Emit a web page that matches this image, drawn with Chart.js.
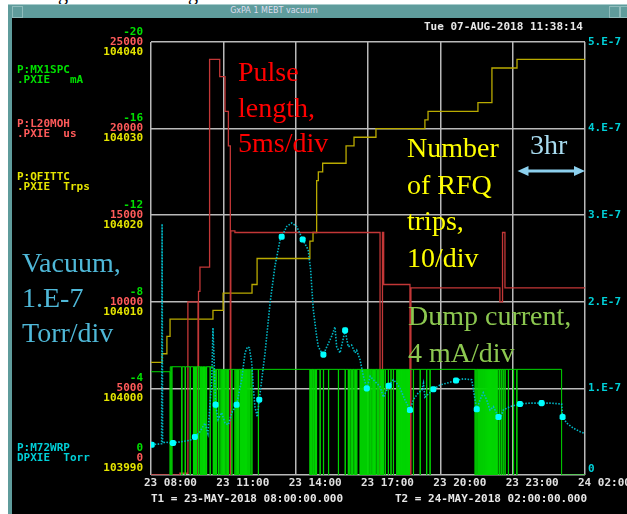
<!DOCTYPE html>
<html>
<head>
<meta charset="utf-8">
<script src="https://cdn.jsdelivr.net/npm/chart.js@4.4.1/dist/chart.umd.min.js"></script>
<style>
  body { margin:0; width:627px; height:514px; background:#fff; position:relative; overflow:hidden; }
  #frame { position:absolute; left:8px; top:4px; width:640px; height:530px; background:#5f9c9c; border-top:1px solid #a8cccc; }
  #panel { position:absolute; left:12px; top:18px; width:640px; height:500px; background:#000; }
  .btn { position:absolute; top:6px; width:9px; height:10px; border:1px solid #8fbcbc; }
  #title { position:absolute; left:0; width:548px; top:6px; text-align:center; font:8px 'DejaVu Sans', sans-serif; color:#dde; }
  canvas { position:absolute; left:0; top:0; }
  .t { position:absolute; white-space:pre; font:bold 11px 'DejaVu Sans Mono', monospace; line-height:10px; }
  .big { position:absolute; white-space:pre; font-family:'Liberation Serif','Times New Roman',serif; font-size:28px; }
  .cut { position:absolute; top:-17px; font:20px 'Liberation Serif', serif; line-height:20px; color:#000; }
</style>
</head>
<body>
<div class="cut" style="left:58px">g</div>
<div class="cut" style="left:188px">g</div>
<div id="frame"></div>
<div class="btn" style="left:12px"></div>
<div class="btn" style="left:609px"></div>
<div class="btn" style="left:620px"></div>
<div id="title">GxPA 1 MEBT vacuum</div>
<div id="panel"></div>
<canvas id="c" width="627" height="514"></canvas>

<div class="t" style="left:424px;top:22px;color:#e8e8e8">Tue 07-AUG-2018 11:38:14</div>

<div class="t" style="left:17px;top:65px;color:#00e000">P:MX1SPC
.PXIE   mA</div>
<div class="t" style="left:17px;top:119px;color:#ff5a5a">P:L20MOH
.PXIE  us</div>
<div class="t" style="left:17px;top:172px;color:#e6e600">P:QFITTC
.PXIE  Trps</div>
<div class="t" style="left:17px;top:443px;color:#00d0d8">P:M72WRP
DPXIE  Torr</div>

<div class="t" style="left:151px;top:494px;color:#e8e8e8">T1 = 23-MAY-2018 08:00:00.000</div>
<div class="t" style="left:395px;top:494px;color:#e8e8e8">T2 = 24-MAY-2018 02:00:00.000</div>

<div class="big" style="left:238px;top:54px;line-height:35.5px;color:#ff0000">Pulse
length,
5ms/div</div>
<div class="big" style="left:407px;top:130px;line-height:36.5px;color:#ffff00">Number
of RFQ
trips,
10/div</div>
<div class="big" style="left:530px;top:129px;color:#a8dcf0">3hr</div>
<div class="big" style="left:22px;top:245px;line-height:35px;color:#4fb8d8">Vacuum,
1.E-7
Torr/div</div>
<div class="big" style="left:408px;top:297px;line-height:37px;color:#8cc850">Dump current,
4 mA/div</div>

<script>
// time axis, hours after 23-May 08:00
var timeLabels = ['23 08:00', '23 11:00', '23 14:00', '23 17:00', '23 20:00', '23 23:00', '24 02:00'];

// RFQ trips counter (step changes)
var tripsT = [0, 0.46, 0.66, 0.79, 2.57, 2.99, 4.19, 4.40, 6.59, 6.72, 6.87, 6.94, 7.12, 8.09, 8.42, 9.33, 11.36, 11.49, 13.56, 14.14, 15.18, 18];
var tripsV = [104003, 104004, 104006, 104008, 104009, 104011, 104012, 104015, 104017, 104018, 104024, 104025, 104026, 104028, 104029, 104030, 104031, 104032, 104033, 104037, 104038, 104038];

// pulse length, us (step changes)
var pulseT = [0, 1.20, 1.53, 1.95, 1.97, 2.03, 2.43, 2.85, 3.07, 3.21, 3.29, 3.31, 3.48, 9.50, 9.60, 9.65, 10.74, 10.78, 14.47, 14.58, 14.68, 18];
var pulseV = [0, 100, 10000, 0, 10600, 12000, 24000, 23000, 21000, 19000, 0, 14100, 14000, 0, 14000, 11000, 0, 10800, 10000, 14000, 10800, 10800];

// dump current, mA: level and the trips to zero
var dumpLevelT = [0, 0.79, 2.50];
var dumpLevelV = [-4.77, -5.0, -4.88];
var dumpOffStart = [0.79, 0.86, 1.27, 1.41, 1.62, 1.76, 1.80, 1.84, 1.88, 1.96, 2.03, 2.08, 2.12, 2.17, 2.21, 2.25, 2.30, 2.45, 2.58, 2.62, 2.66, 2.71, 2.79, 2.86, 2.93, 2.97, 3.01, 3.06, 3.11, 3.16, 3.20, 3.35, 3.48, 3.53, 3.58, 3.62, 3.69, 3.72, 3.75, 3.78, 3.81, 3.84, 3.88, 3.91, 3.95, 3.98, 4.02, 4.06, 4.10, 4.18, 4.45,
  6.59, 6.63, 6.67, 6.72, 6.76, 6.82, 6.86, 7.01, 7.15, 7.36, 7.77, 8.05, 8.18, 8.24, 8.30, 8.36, 8.42, 8.48, 8.53, 8.67, 8.71, 8.75, 8.79, 8.83, 8.87, 8.91, 8.95, 8.99, 9.03, 9.08, 9.12, 9.17, 9.22, 9.27, 9.32, 9.38, 9.44, 9.50, 9.55, 9.60, 9.64, 9.71, 9.84, 9.95, 10.05, 10.19, 10.23, 10.27, 10.31, 10.35, 10.39, 10.43, 10.47, 10.51, 10.55, 10.59, 10.63, 10.67, 10.71, 10.88, 11.16, 11.43, 11.57,
  13.44, 13.51, 13.56, 13.60, 13.64, 13.68, 13.72, 13.76, 13.80, 13.84, 13.88, 13.92, 13.96, 14.00, 14.04, 14.08, 14.12, 14.16, 14.20, 14.24, 14.28, 14.33, 14.38, 14.45, 14.52, 14.60, 14.68, 14.82, 15.03, 15.17, 17.03];
var dumpOffEnd = [0.80, 0.87, 1.29, 1.43, 1.63, 1.77, 1.81, 1.85, 1.89, 1.97, 2.05, 2.09, 2.14, 2.18, 2.22, 2.27, 2.31, 2.46, 2.59, 2.63, 2.68, 2.72, 2.80, 2.87, 2.94, 2.98, 3.03, 3.07, 3.12, 3.17, 3.21, 3.36, 3.49, 3.54, 3.59, 3.63, 3.70, 3.73, 3.76, 3.79, 3.82, 3.85, 3.89, 3.92, 3.96, 3.99, 4.03, 4.07, 4.11, 4.19, 4.46,
  6.60, 6.64, 6.68, 6.73, 6.77, 6.83, 6.87, 7.02, 7.16, 7.37, 7.78, 8.06, 8.19, 8.25, 8.31, 8.37, 8.43, 8.49, 8.54, 8.68, 8.72, 8.76, 8.80, 8.84, 8.88, 8.92, 8.96, 9.00, 9.04, 9.09, 9.13, 9.18, 9.23, 9.28, 9.33, 9.39, 9.45, 9.51, 9.56, 9.61, 9.65, 9.72, 9.85, 9.96, 10.06, 10.20, 10.24, 10.28, 10.32, 10.36, 10.40, 10.44, 10.48, 10.52, 10.56, 10.60, 10.64, 10.68, 10.72, 10.89, 11.17, 11.44, 11.58,
  13.45, 13.52, 13.57, 13.61, 13.65, 13.69, 13.73, 13.77, 13.81, 13.85, 13.89, 13.93, 13.97, 14.01, 14.05, 14.09, 14.13, 14.17, 14.21, 14.25, 14.29, 14.34, 14.39, 14.46, 14.53, 14.61, 14.69, 14.83, 15.04, 15.18, 18];

// vacuum, Torr
var vacT = [0.03, 0.41, 0.44, 0.46, 0.48, 0.60, 0.79, 0.91, 1.62, 1.82, 2.03, 2.24, 2.36, 2.52, 2.57, 2.68, 2.78, 2.93, 3.07, 3.21, 3.35, 3.55, 3.76, 3.90, 4.00, 4.08, 4.18, 4.24, 4.31, 4.41, 4.49, 4.73, 4.94, 5.14, 5.35, 5.42, 5.63, 5.84, 6.04, 6.29, 6.52, 6.62, 6.73, 6.87, 6.94, 7.08, 7.15, 7.29, 7.49, 7.63, 7.70, 7.84, 8.05, 8.18, 8.32, 8.46, 8.53, 8.67, 8.81, 8.95, 9.09, 9.22, 9.50, 9.64, 9.78, 9.86, 10.05, 10.19, 10.33, 10.53, 10.74, 10.88, 11.09, 11.23, 11.30, 11.36, 11.57, 11.71, 11.99, 12.26, 12.65, 12.95, 13.30, 13.44, 13.51, 13.65, 13.78, 13.92, 14.06, 14.20, 14.41, 14.47, 14.61, 14.89, 15.30, 15.72, 16.20, 16.55, 17.03, 17.07, 17.24, 17.52, 17.80, 18.0];
var vacV = [0.35e-7, 0.36e-7, 0.36e-7, 2.9e-7, 0.37e-7, 0.38e-7, 0.37e-7, 0.37e-7, 0.40e-7, 0.44e-7, 0.50e-7, 0.60e-7, 0.48e-7, 1.10e-7, 1.70e-7, 0.81e-7, 0.64e-7, 0.72e-7, 0.60e-7, 0.58e-7, 0.72e-7, 0.81e-7, 1.10e-7, 1.41e-7, 1.48e-7, 1.47e-7, 1.29e-7, 1.02e-7, 0.79e-7, 0.67e-7, 0.87e-7, 1.41e-7, 1.99e-7, 2.41e-7, 2.71e-7, 2.75e-7, 2.87e-7, 2.91e-7, 2.87e-7, 2.72e-7, 2.60e-7, 2.37e-7, 1.91e-7, 1.60e-7, 1.48e-7, 1.41e-7, 1.39e-7, 1.48e-7, 1.60e-7, 1.71e-7, 1.48e-7, 1.41e-7, 1.67e-7, 1.48e-7, 1.50e-7, 1.41e-7, 1.44e-7, 1.33e-7, 1.14e-7, 1.00e-7, 1.14e-7, 1.10e-7, 1.02e-7, 0.90e-7, 0.98e-7, 1.03e-7, 1.10e-7, 1.06e-7, 1.00e-7, 0.87e-7, 0.75e-7, 0.87e-7, 0.95e-7, 0.98e-7, 1.06e-7, 0.90e-7, 0.95e-7, 0.99e-7, 1.04e-7, 1.06e-7, 1.09e-7, 1.11e-7, 1.10e-7, 0.87e-7, 0.76e-7, 0.87e-7, 0.95e-7, 0.87e-7, 0.75e-7, 0.79e-7, 0.67e-7, 0.64e-7, 0.75e-7, 0.79e-7, 0.82e-7, 0.83e-7, 0.83e-7, 0.83e-7, 0.82e-7, 0.67e-7, 0.60e-7, 0.54e-7, 0.50e-7, 0.48e-7];
// sample markers on the vacuum trace
var markT = [0.03, 0.91, 1.82, 2.68, 3.55, 4.49, 5.42, 6.29, 7.15, 8.05, 8.95, 9.86, 10.74, 11.71, 12.65, 13.51, 14.41, 15.30, 16.20, 17.07];
var markV = [0.35e-7, 0.37e-7, 0.44e-7, 0.81e-7, 0.81e-7, 0.87e-7, 2.75e-7, 2.72e-7, 1.39e-7, 1.67e-7, 1.00e-7, 1.03e-7, 0.75e-7, 0.99e-7, 1.09e-7, 0.76e-7, 0.67e-7, 0.82e-7, 0.83e-7, 0.67e-7];

// 3 hr arrow
var arrowFrom = 15.2, arrowTo = 18, arrowLevel = 17550;

function pairs(t, v) {
  var out = [];
  for (var i = 0; i < t.length; i++) out.push({x: t[i], y: v[i]});
  return out;
}

function dumpLevel(t) {
  var v = dumpLevelV[0];
  for (var i = 0; i < dumpLevelT.length; i++) if (dumpLevelT[i] <= t) v = dumpLevelV[i];
  return v;
}

var dumpData = [{x: 0, y: dumpLevel(0)}];
for (var i = 0; i < dumpOffStart.length; i++) {
  dumpData.push({x: dumpOffStart[i], y: 0});
  if (dumpOffEnd[i] < 18) dumpData.push({x: dumpOffEnd[i], y: dumpLevel(dumpOffEnd[i])});
  else dumpData.push({x: 18, y: 0});
}

var gridColor = 'rgb(185,185,185)';
var monoFont = {family: "'DejaVu Sans Mono', monospace", size: 11, weight: 'bold', lineHeight: 1};

// the three left scales share one label column: widen the inner ones' boxes after layout
var sharedLeft = {
  id: 'sharedLeft',
  afterLayout: function(chart) {
    ['yP', 'yD'].forEach(function(id) {
      chart.scales[id].left = 0;
    });
  }
};

var arrowPlugin = {
  id: 'arrow',
  afterDatasetsDraw: function(chart) {
    var ctx = chart.ctx;
    var x1 = chart.scales.x.getPixelForValue(arrowFrom);
    var x2 = chart.scales.x.getPixelForValue(arrowTo);
    var y = chart.scales.yP.getPixelForValue(arrowLevel);
    ctx.save();
    ctx.strokeStyle = '#8cd0ee';
    ctx.fillStyle = '#8cd0ee';
    ctx.lineWidth = 3;
    ctx.beginPath();
    ctx.moveTo(x1 + 8, y);
    ctx.lineTo(x2 - 8, y);
    ctx.stroke();
    ctx.beginPath();
    ctx.moveTo(x1, y); ctx.lineTo(x1 + 11, y - 5); ctx.lineTo(x1 + 11, y + 5); ctx.closePath();
    ctx.moveTo(x2, y); ctx.lineTo(x2 - 11, y - 5); ctx.lineTo(x2 - 11, y + 5); ctx.closePath();
    ctx.fill();
    ctx.restore();
  }
};

new Chart(document.getElementById('c'), {
  type: 'line',
  data: {
    datasets: [
      {
        label: 'vacuum samples',
        data: pairs(markT, markV),
        yAxisID: 'yV',
        showLine: false,
        pointStyle: 'rectRounded',
        pointRadius: 3.5,
        pointBackgroundColor: '#00ffff',
        pointBorderWidth: 0
      },
      {
        label: 'P:M72WRP',
        data: pairs(vacT, vacV),
        yAxisID: 'yV',
        borderColor: 'rgb(0,185,200)',
        borderWidth: 1.6,
        borderDash: [1.5, 1.5],
        pointRadius: 0,
        tension: 0
      },
      {
        label: 'P:MX1SPC',
        data: dumpData,
        yAxisID: 'yD',
        stepped: true,
        borderColor: 'rgb(0,215,0)',
        borderWidth: 1,
        pointRadius: 0
      },
      {
        label: 'P:L20MOH',
        data: pairs(pulseT, pulseV),
        yAxisID: 'yP',
        stepped: true,
        borderColor: 'rgb(195,55,55)',
        borderWidth: 1.3,
        pointRadius: 0
      },
      {
        label: 'P:QFITTC',
        data: pairs(tripsT, tripsV),
        yAxisID: 'yT',
        stepped: true,
        borderColor: 'rgb(185,170,0)',
        borderWidth: 1.3,
        pointRadius: 0
      }
    ]
  },
  options: {
    responsive: false,
    animation: false,
    events: [],
    layout: {padding: {top: 42, left: 0, right: 0, bottom: 0}},
    plugins: {legend: {display: false}, tooltip: {enabled: false}},
    scales: {
      x: {
        type: 'linear', position: 'bottom', min: 0, max: 18,
        grid: {color: gridColor, lineWidth: 1.5, drawTicks: false},
        border: {display: false},
        ticks: {
          stepSize: 3, autoSkip: false, maxRotation: 0, align: 'start', labelOffset: -7, padding: 2,
          color: '#e0e0e0', font: {family: "'DejaVu Sans Mono', monospace", size: 11, weight: 'bold'},
          callback: function(v) { return timeLabels[Math.round(v / 3)]; }
        },
        afterFit: function(s) { s.height = 39; s.paddingLeft = 0; s.paddingRight = 0; }
      },
      yT: {
        position: 'left', weight: 2, min: 103990, max: 104040,
        grid: {display: false, drawTicks: false}, border: {display: false},
        ticks: {
          stepSize: 10, padding: 8, labelOffset: 10, color: '#e6e600', font: monoFont,
          callback: function(v) { return v === 103990 ? [String(v), '', '', ''] : String(v); }
        },
        afterFit: function(s) { s.width = 151; s.paddingTop = 0; s.paddingBottom = 0; }
      },
      yP: {
        position: 'left', weight: 1, min: 0, max: 25000,
        grid: {color: gridColor, lineWidth: 1.5, drawTicks: false}, border: {display: false},
        ticks: {
          stepSize: 5000, padding: 8, labelOffset: 0, color: '#ff5a5a', font: monoFont,
          callback: function(v) { return v === 0 ? ['0', '', '', ''] : String(v); }
        },
        afterFit: function(s) { s.width = 0; s.paddingTop = 0; s.paddingBottom = 0; }
      },
      yD: {
        position: 'left', weight: 0, reverse: true, min: -20, max: 0,
        grid: {display: false, drawTicks: false}, border: {display: false},
        ticks: {
          stepSize: 4, padding: 8, labelOffset: -10, color: '#00e000', font: monoFont,
          callback: function(v) { return v === 0 ? ['0', '', '', ''] : String(v); }
        },
        afterFit: function(s) { s.width = 0; s.paddingTop = 0; s.paddingBottom = 0; }
      },
      yV: {
        position: 'right', min: 0, max: 5e-7,
        grid: {display: false, drawTicks: false}, border: {display: false},
        ticks: {
          stepSize: 1e-7, padding: 3, color: '#00d0d8', font: monoFont,
          callback: function(v) { var n = Math.round(v * 1e7); return n === 0 ? ['0', ''] : n + '.E-7'; }
        },
        afterFit: function(s) { s.width = 42; s.paddingTop = 0; s.paddingBottom = 0; }
      }
    }
  },
  plugins: [sharedLeft, arrowPlugin]
});
</script>
</body>
</html>
